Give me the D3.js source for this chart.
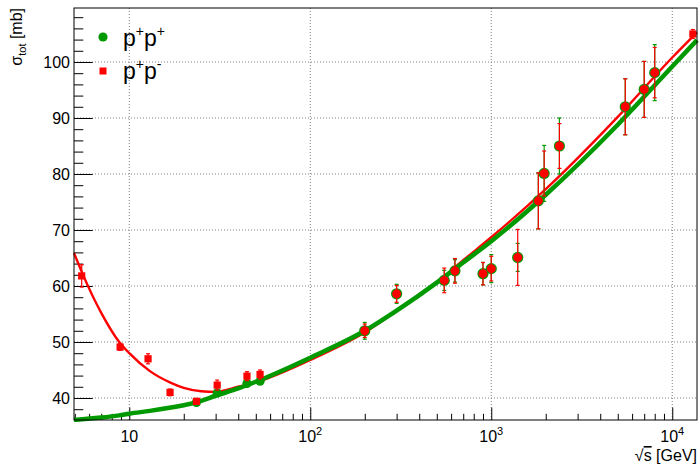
<!DOCTYPE html>
<html>
<head>
<meta charset="utf-8">
<script src="https://cdn.jsdelivr.net/npm/d3@7"></script>
<style>
  body { margin: 0; background: #fff; }
  text { font-family: "Liberation Sans", Arial, sans-serif; fill: #000; }
</style>
</head>
<body>
<svg class="chart" width="699" height="468"></svg>
<script>
// p+p- points at low energy (squares) and the 13 TeV point
var ppbarE   = [5.46, 8.9, 12.7, 16.8, 23.5, 30.6, 44.7, 52.8, 13000];
var ppbarSig = [61.8, 49.1, 47.0, 41.0, 39.4, 42.3, 43.9, 44.2, 105.0];
var ppbarErr = [2.0, 0.6, 0.9, 0.6, 0.5, 0.9, 0.8, 0.8, 0.8];

// p+p+ points at ISR energies
var ppE   = [23.5, 30.6, 44.7, 52.8];
var ppSig = [39.2, 40.9, 42.6, 43.0];
var ppErr = [0.4, 0.4, 0.4, 0.4];

// high energy points, shown in both series
var hiE    = [200, 300, 550, 630, 900, 1000, 1400, 1820, 1960, 2380, 5500, 7000, 8000];
var hiSig  = [52.0, 58.6, 61.0, 62.7, 62.2, 63.1, 65.1, 75.2, 80.1, 85.0, 92.0, 95.1, 98.1];
var hiErrG = [1.5, 1.7, 1.8, 2.0, 2.0, 2.5, 2.5, 5.0, 5.0, 5.0, 5.0, 5.0, 5.0];
var hiErrR = [1.2, 1.5, 2.2, 2.2, 2.0, 2.2, 5.0, 5.0, 4.0, 4.0, 5.0, 5.0, 4.5];

// fitted curves
var fitE     = [4.95, 5.5, 7, 8.8, 10, 13, 17, 20, 25, 30, 40, 50, 100, 200, 300, 500, 700, 1000, 2000, 5000, 10000, 13700];
var ppFit    = [36.1, 36.2, 36.5, 36.9, 37.2, 37.7, 38.3, 38.7, 39.5, 40.4, 41.7, 42.9, 47.2, 52.0, 55.6, 60.6, 64.2, 68.0, 76.3, 88.8, 99.2, 103.9];
var ppbarFit = [65.9, 62.3, 55.2, 50.0, 48.0, 44.8, 42.7, 41.8, 41.2, 41.1, 42.0, 42.8, 46.8, 51.7, 55.5, 60.6, 64.6, 68.7, 77.3, 90.2, 100.8, 105.3];

// axis ticks
var xMajor = [10, 100, 1000, 10000];
var xMinor = [5, 6, 7, 8, 9, 20, 30, 40, 50, 60, 70, 80, 90, 200, 300, 400, 500, 600, 700, 800, 900,
              2000, 3000, 4000, 5000, 6000, 7000, 8000, 9000];
var yMajor = [40, 50, 60, 70, 80, 90, 100];
var yMinor = [38, 42, 44, 46, 48, 52, 54, 56, 58, 62, 64, 66, 68, 72, 74, 76, 78, 82, 84, 86, 88, 92, 94, 96, 98, 102, 104, 106, 108];
var xExp = ["", "2", "3", "4"];

var green = "#009a00";
var red = "#ff0000";

var fLeft = 74, fRight = 697, fTop = 8, fBottom = 420;

var svg = d3.select("svg.chart");

var x = d3.scaleLog().domain([4.95, 13700]).range([fLeft, fRight]);
var y = d3.scaleLinear().domain([36.07, 109.64]).range([fBottom, fTop]);

// grid
svg.append("g").selectAll("line")
   .data(xMajor)
   .enter()
   .append("line")
   .attr("x1", function(d){ return x(d); })
   .attr("x2", function(d){ return x(d); })
   .attr("y1", fTop)
   .attr("y2", fBottom)
   .attr("stroke", "#808080")
   .attr("stroke-dasharray", "1,2");

svg.append("g").selectAll("line")
   .data(yMajor)
   .enter()
   .append("line")
   .attr("x1", fLeft)
   .attr("x2", fRight)
   .attr("y1", function(d){ return y(d); })
   .attr("y2", function(d){ return y(d); })
   .attr("stroke", "#808080")
   .attr("stroke-dasharray", "1,2");

// axes
var xAxis = svg.append("g")
   .attr("transform", "translate(0," + fBottom + ")")
   .call(d3.axisBottom(x).tickValues(xMajor).tickSize(-12.4).tickFormat(""));
xAxis.select(".domain").remove();

var xAxisMinor = svg.append("g")
   .attr("transform", "translate(0," + fBottom + ")")
   .call(d3.axisBottom(x).tickValues(xMinor).tickSize(-6.2).tickFormat(""));
xAxisMinor.select(".domain").remove();

var yAxis = svg.append("g")
   .attr("transform", "translate(" + fLeft + ",0)")
   .call(d3.axisLeft(y).tickValues(yMajor).tickSize(-18.7).tickPadding(4));
yAxis.select(".domain").remove();
yAxis.selectAll("text")
   .style("font-family", "'Liberation Sans', Arial, sans-serif")
   .style("font-size", "16px");

var yAxisMinor = svg.append("g")
   .attr("transform", "translate(" + fLeft + ",0)")
   .call(d3.axisLeft(y).tickValues(yMinor).tickSize(-9.3).tickFormat(""));
yAxisMinor.select(".domain").remove();

// x tick labels with exponents
var xLabels = svg.append("g").selectAll("text")
   .data(xMajor)
   .enter()
   .append("text")
   .attr("x", function(d){ return x(d); })
   .attr("y", 442)
   .attr("text-anchor", "middle")
   .style("font-size", "16px");
xLabels.append("tspan").text("10");
xLabels.append("tspan")
   .attr("dy", -7)
   .style("font-size", "11px")
   .text(function(d, i){ return xExp[i]; });

// fit curves
var line = d3.line()
   .x(function(d){ return x(d[0]); })
   .y(function(d){ return y(d[1]); })
   .curve(d3.curveMonotoneX);

svg.append("path")
   .datum(d3.zip(fitE, ppbarFit))
   .attr("d", line)
   .attr("fill", "none")
   .attr("stroke", red)
   .attr("stroke-width", 2.4);

svg.append("path")
   .datum(d3.zip(fitE, ppFit))
   .attr("d", line)
   .attr("fill", "none")
   .attr("stroke", green)
   .attr("stroke-width", 4.5);

function errorBars(g, E, S, Er, col){
  var bars = g.append("g").selectAll("g")
     .data(d3.zip(E, S, Er))
     .enter()
     .append("g")
     .attr("stroke", col)
     .attr("stroke-width", 1.2);
  bars.append("line")
     .attr("x1", function(d){ return x(d[0]); })
     .attr("x2", function(d){ return x(d[0]); })
     .attr("y1", function(d){ return y(d[1] - d[2]); })
     .attr("y2", function(d){ return y(d[1] + d[2]); });
  bars.append("line")
     .attr("x1", function(d){ return x(d[0]) - 2; })
     .attr("x2", function(d){ return x(d[0]) + 2; })
     .attr("y1", function(d){ return y(d[1] + d[2]); })
     .attr("y2", function(d){ return y(d[1] + d[2]); });
  bars.append("line")
     .attr("x1", function(d){ return x(d[0]) - 2; })
     .attr("x2", function(d){ return x(d[0]) + 2; })
     .attr("y1", function(d){ return y(d[1] - d[2]); })
     .attr("y2", function(d){ return y(d[1] - d[2]); });
}

function circles(g, E, S, r, col){
  g.append("g").selectAll("circle")
     .data(d3.zip(E, S))
     .enter()
     .append("circle")
     .attr("cx", function(d){ return x(d[0]); })
     .attr("cy", function(d){ return y(d[1]); })
     .attr("r", r)
     .attr("fill", col);
}

var pts = svg.append("g");

// p+p+ at ISR
errorBars(pts, ppE, ppSig, ppErr, green);
circles(pts, ppE, ppSig, 4.6, green);

// high energy points
errorBars(pts, hiE, hiSig, hiErrG, green);
circles(pts, hiE, hiSig, 5.6, green);
errorBars(pts, hiE, hiSig, hiErrR, red);
circles(pts, hiE, hiSig, 4.5, red);

// p+p- squares
errorBars(pts, ppbarE, ppbarSig, ppbarErr, red);
pts.append("g").selectAll("rect")
   .data(d3.zip(ppbarE, ppbarSig))
   .enter()
   .append("rect")
   .attr("x", function(d){ return x(d[0]) - 3.6; })
   .attr("y", function(d){ return y(d[1]) - 3.6; })
   .attr("width", 7.2)
   .attr("height", 7.2)
   .attr("fill", red);

// frame
svg.append("rect")
   .attr("x", fLeft)
   .attr("y", fTop)
   .attr("width", fRight - fLeft)
   .attr("height", fBottom - fTop)
   .attr("fill", "none")
   .attr("stroke", "#000")
   .attr("stroke-width", 1);

// titles
var yt = svg.append("text")
   .attr("transform", "translate(22," + fTop + ") rotate(-90)")
   .attr("text-anchor", "end")
   .style("font-size", "16px");
yt.append("tspan").text("σ");
yt.append("tspan").attr("dy", 4).style("font-size", "11px").text("tot");
yt.append("tspan").attr("dy", -4).text(" [mb]");

var xt = svg.append("text")
   .attr("x", fRight)
   .attr("y", 461)
   .attr("text-anchor", "end")
   .style("font-size", "16px");
xt.append("tspan").text("√");
xt.append("tspan").style("text-decoration", "overline").text("s");
xt.append("tspan").text(" [GeV]");

// legend
var leg = svg.append("g");
leg.append("circle").attr("cx", 103).attr("cy", 37).attr("r", 4.6).attr("fill", green);
leg.append("rect").attr("x", 99.5).attr("y", 67.5).attr("width", 7).attr("height", 7).attr("fill", red);

var l1 = leg.append("text").attr("x", 123).attr("y", 46).style("font-size", "23px");
l1.append("tspan").text("p");
l1.append("tspan").attr("dy", -10).style("font-size", "14px").text("+");
l1.append("tspan").attr("dy", 10).text("p");
l1.append("tspan").attr("dy", -10).style("font-size", "14px").text("+");

var l2 = leg.append("text").attr("x", 123).attr("y", 79).style("font-size", "23px");
l2.append("tspan").text("p");
l2.append("tspan").attr("dy", -10).style("font-size", "14px").text("+");
l2.append("tspan").attr("dy", 10).text("p");
l2.append("tspan").attr("dy", -10).style("font-size", "14px").text("-");
</script>
</body>
</html>
